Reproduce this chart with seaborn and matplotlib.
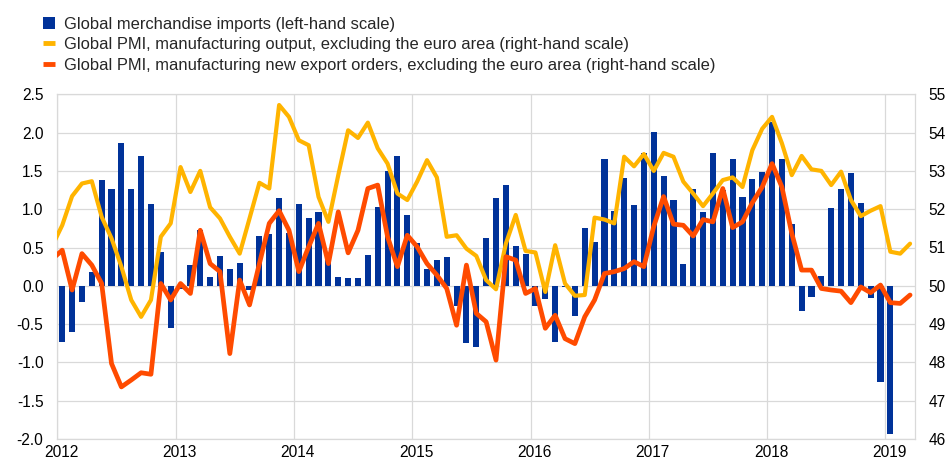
import numpy as np
import pandas as pd
import matplotlib
matplotlib.use("Agg")
import matplotlib.pyplot as plt
import seaborn as sns
from matplotlib.patches import Patch
from matplotlib.lines import Line2D

# Global merchandise imports (left-hand scale), monthly Jan 2012 - Jan 2019
imports = [
    -0.73, -0.60, -0.21, 0.18, 1.38, 1.26, 1.86, 1.26, 1.69, 1.07, 0.44, -0.55,   # 2012
    -0.04, 0.27, 0.73, 0.11, 0.39, 0.22, 0.30, -0.05, 0.65, 0.68, 1.15, 0.69,    # 2013
    1.07, 0.89, 0.96, 0.35, 0.11, 0.10, 0.10, 0.40, 1.03, 1.50, 1.70, 0.93,      # 2014
    0.56, 0.22, 0.34, 0.38, -0.27, -0.75, -0.80, 0.62, 1.14, 1.32, 0.52, 0.41,   # 2015
    -0.27, -0.17, -0.74, -0.02, -0.40, 0.75, 0.57, 1.65, 0.97, 1.41, 1.05, 1.73, # 2016
    2.01, 1.43, 1.12, 0.29, 1.27, 0.96, 1.74, 1.25, 1.65, 1.16, 1.39, 1.49,      # 2017
    2.14, 1.66, 0.81, -0.33, -0.15, 0.13, 1.02, 1.26, 1.47, 1.08, -0.16, -1.25,  # 2018
    -1.94,                                                                        # 2019
]

# Global PMI, manufacturing output, excl. euro area (right-hand scale), Dec 2011 - Mar 2019
pmi_output = [
    51.05,
    51.58, 52.34, 52.67, 52.73, 51.80, 51.24, 50.50, 49.63, 49.19, 49.63, 51.28, 51.63,
    53.10, 52.45, 53.00, 52.05, 51.76, 51.28, 50.84, 51.76, 52.69, 52.54, 54.72, 54.41,
    53.80, 53.67, 52.32, 51.67, 52.89, 54.06, 53.86, 54.26, 53.59, 53.19, 52.41, 52.24,
    52.72, 53.28, 52.83, 51.28, 51.32, 50.97, 50.78, 50.15, 49.91, 51.10, 51.85, 50.91,
    50.87, 49.84, 51.06, 50.06, 49.74, 49.76, 51.78, 51.73, 51.63, 53.37, 53.12, 53.44,
    53.00, 53.47, 53.37, 52.72, 52.41, 52.08, 52.41, 52.76, 52.83, 52.58, 53.54, 54.10,
    54.41, 53.72, 52.89, 53.39, 53.04, 53.00, 52.63, 52.98, 52.24, 51.82, 51.96, 52.08,
    50.89, 50.84, 51.10,
]

# Global PMI, manufacturing new export orders, excl. euro area (right-hand scale), Dec 2011 - Mar 2019
pmi_export = [
    50.70,
    50.93, 49.89, 50.84, 50.54, 50.06, 47.97, 47.36, 47.54, 47.73, 47.69, 50.06, 49.63,
    50.06, 49.80, 51.45, 50.58, 50.37, 48.23, 50.15, 49.50, 50.58, 51.63, 51.96, 51.45,
    50.37, 51.02, 51.63, 50.58, 51.93, 50.86, 51.45, 52.54, 52.63, 51.28, 50.50, 51.32,
    51.02, 50.58, 50.28, 49.93, 48.97, 50.54, 49.28, 49.06, 48.06, 50.76, 50.67, 49.80,
    49.93, 48.89, 49.23, 48.62, 48.49, 49.19, 49.63, 50.32, 50.37, 50.45, 50.63, 50.50,
    51.55, 52.33, 51.61, 51.58, 51.30, 51.73, 51.67, 52.54, 51.52, 51.67, 52.17, 52.58,
    53.19, 52.58, 51.37, 50.41, 50.41, 49.93, 49.89, 49.86, 49.56, 49.97, 49.82, 50.02,
    49.56, 49.54, 49.76,
]

year_labels = ["2012", "2013", "2014", "2015", "2016", "2017", "2018", "2019"]
legend_labels = [
    "Global merchandise imports (left-hand scale)",
    "Global PMI, manufacturing output, excluding the euro area (right-hand scale)",
    "Global PMI, manufacturing new export orders, excluding the euro area (right-hand scale)",
]

BLUE = "#003299"
YELLOW = "#FFB400"
ORANGE = "#FF4B00"
GRID = "#d9d9d9"
FS_TICK = 11.2
FS_LEG = 11.9

sns.set_theme(style="white")
plt.rcParams["font.family"] = ["Liberation Sans", "DejaVu Sans"]

# months since Jan 2012, bars centred in the month
bar_df = pd.DataFrame({"month": np.arange(len(imports)) + 0.5, "value": imports})
line_df = pd.DataFrame({
    "month": np.arange(len(pmi_output)) - 0.5,   # first point is Dec 2011
    "output": pmi_output,
    "export": pmi_export,
})

W, H = 949, 463
fig = plt.figure(figsize=(W / 100, H / 100), dpi=100)
x0, x1, y0, y1 = 57.3, 915.0, 94.3, 439.0
ax = fig.add_axes([x0 / W, 1 - y1 / H, (x1 - x0) / W, (y1 - y0) / H])

sns.barplot(data=bar_df, x="month", y="value", native_scale=True, width=0.62,
            color=BLUE, saturation=1, linewidth=0, errorbar=None, ax=ax, zorder=2)

ax2 = ax.twinx()
sns.lineplot(data=line_df, x="month", y="output", color=YELLOW, lw=3.0, ax=ax2,
             solid_joinstyle="round", solid_capstyle="round")
sns.lineplot(data=line_df, x="month", y="export", color=ORANGE, lw=3.4, ax=ax2,
             solid_joinstyle="round", solid_capstyle="round")

n_months = 87
ax.set_xlim(0, n_months)
ax2.set_xlim(0, n_months)
ax.set_ylim(-2.0, 2.5)
ax2.set_ylim(46, 55)

yt = np.arange(-2.0, 2.51, 0.5)
ax.set_yticks(yt)
ax.set_yticklabels([f"{v:.1f}" for v in yt])
ax2.set_yticks(np.arange(46, 56, 1))
ax2.set_yticklabels([str(v) for v in range(46, 56)])

year_pos = np.arange(len(year_labels)) * 12
ax.set_xticks(year_pos, minor=True)
ax.set_xticks(year_pos + 0.4)
ax.set_xticklabels(year_labels)

ax.set_axisbelow(True)
ax.grid(False)
ax.yaxis.grid(True, color=GRID, lw=0.9)
ax.xaxis.grid(True, which="minor", color=GRID, lw=0.9)
ax2.grid(False)

for s in ax.spines.values():
    s.set_visible(True)
    s.set_color(GRID)
    s.set_linewidth(0.9)
for s in ax2.spines.values():
    s.set_visible(False)

ax.set_xlabel("")
ax.set_ylabel("")
ax2.set_xlabel("")
ax2.set_ylabel("")

ax.tick_params(axis="y", which="both", length=0, pad=10, labelsize=FS_TICK, labelcolor="#000000")
ax.tick_params(axis="x", which="both", length=0, pad=4.5, labelsize=FS_TICK, labelcolor="#000000")
ax2.tick_params(axis="y", length=0, pad=9.5, labelsize=FS_TICK, labelcolor="#000000")

handles = [
    Patch(facecolor=BLUE, edgecolor="none"),
    Line2D([0], [0], color=YELLOW, lw=3.5, solid_capstyle="butt"),
    Line2D([0], [0], color=ORANGE, lw=3.5, solid_capstyle="butt"),
]
fig.legend(handles, legend_labels, loc="upper left", bbox_to_anchor=(43 / W, 1 - 17 / H),
           frameon=False, fontsize=FS_LEG, handlelength=0.72, handleheight=0.72,
           handletextpad=0.55, labelspacing=0.32, borderpad=0, borderaxespad=0)

fig.savefig("out.png", dpi=100)
